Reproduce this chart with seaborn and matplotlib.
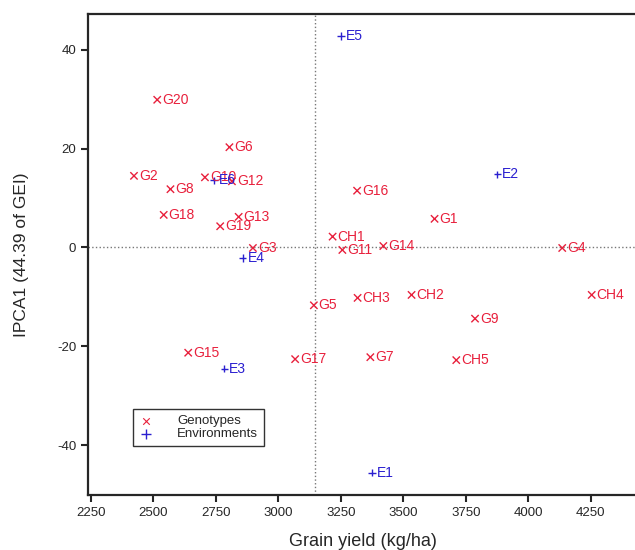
import matplotlib
matplotlib.use("Agg")
import matplotlib.pyplot as plt
import seaborn as sns
import pandas as pd

# genotypes (x = grain yield, y = IPCA1)
gen_names = ["G1", "G2", "G3", "G4", "G5", "G6", "G7", "G8", "G9", "G10",
             "G11", "G12", "G13", "G14", "G15", "G16", "G17", "G18", "G19", "G20",
             "CH1", "CH2", "CH3", "CH4", "CH5"]
gen_yield = [3625, 2422, 2898, 4136, 3142, 2804, 3368, 2568, 3787, 2706,
             3256, 2814, 2841, 3420, 2639, 3315, 3067, 2541, 2767, 2515,
             3217, 3533, 3317, 4254, 3712]
gen_ipca = [5.8, 14.5, -0.1, -0.1, -11.7, 20.3, -22.2, 11.8, -14.4, 14.2,
            -0.5, 13.4, 6.2, 0.3, -21.3, 11.5, -22.6, 6.6, 4.3, 29.9,
            2.2, -9.6, -10.2, -9.6, -22.8]

# environments
env_names = ["E1", "E2", "E3", "E4", "E5", "E6"]
env_yield = [3374, 3876, 2783, 2857, 3251, 2742]
env_ipca = [-45.6, 14.8, -24.5, -2.1, 42.8, 13.6]

grand_mean = 3148

df = pd.DataFrame({
    "name": gen_names + env_names,
    "yield": gen_yield + env_yield,
    "ipca": gen_ipca + env_ipca,
    "kind": ["Genotypes"] * len(gen_names) + ["Environments"] * len(env_names),
})

red = "#e8203c"
blue = "#2a1fd0"
colors = {"Genotypes": red, "Environments": blue}

sns.set_style("ticks")
plt.rcParams["font.family"] = ["Liberation Sans", "DejaVu Sans"]
plt.rcParams["axes.unicode_minus"] = False

fig = plt.figure(figsize=(6.35, 5.5), dpi=100)
ax = fig.add_axes([0.1386, 0.1, 0.8664, 0.874])

sns.scatterplot(data=df, x="yield", y="ipca", hue="kind", style="kind",
                palette=colors, markers={"Genotypes": "x", "Environments": "+"},
                s=28, linewidth=1.0, legend=False, ax=ax)

for _, r in df.iterrows():
    ax.annotate(r["name"], (r["yield"], r["ipca"]), xytext=(3.5, 0),
                textcoords="offset points", va="center", ha="left",
                fontsize=10, color=colors[r["kind"]])

ax.axhline(0, color="#777777", ls=":", lw=1, zorder=0)
ax.axvline(grand_mean, color="#777777", ls=":", lw=1, zorder=0)

ax.set_xlim(2238, 4440)
ax.set_ylim(-50.1, 47.2)
ax.set_xticks(range(2250, 4251, 250))
ax.set_yticks([-40, -20, 0, 20, 40])
ax.tick_params(labelsize=9.5, length=5, width=1.5, direction="out")
for sp in ax.spines.values():
    sp.set_linewidth(1.6)

ax.set_xlabel("Grain yield (kg/ha)", fontsize=13, labelpad=10)
ax.set_ylabel("IPCA1 (44.39 of GEI)", fontsize=12.5, labelpad=20)

# legend
h1 = ax.scatter([], [], marker="x", color=red, s=22, linewidth=0.8)
h2 = ax.scatter([], [], marker="+", color=blue, s=50, linewidth=1.0)
leg = ax.legend([h1, h2], ["Genotypes", "Environments"], loc="lower left",
                bbox_to_anchor=(0.082, 0.102), borderaxespad=0, fontsize=9.5,
                frameon=True, fancybox=False, edgecolor="black",
                handletextpad=1.9, borderpad=0.45, labelspacing=0.05,
                handlelength=1.0)
leg.get_frame().set_linewidth(1.0)

fig.savefig("out.png", dpi=100)
